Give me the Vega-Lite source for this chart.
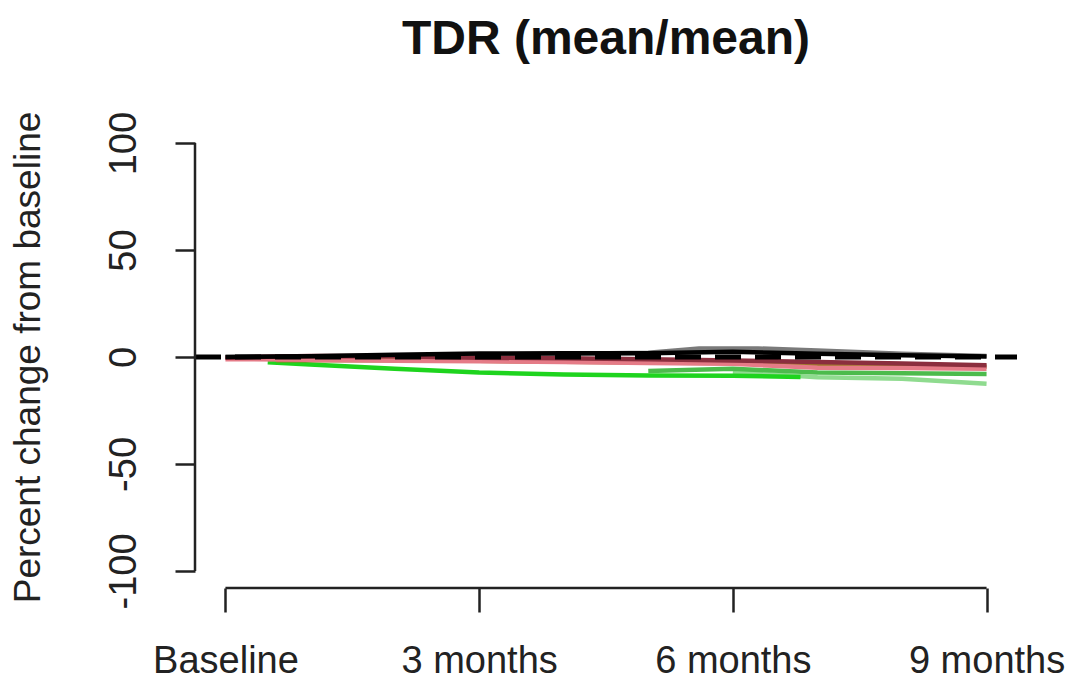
{
  "$schema": "https://vega.github.io/schema/vega-lite/v6.json",
  "autosize": "none",
  "padding": {"left": 195, "top": 126, "right": 63, "bottom": 100},
  "width": 822,
  "height": 462,
  "background": "white",
  "title": {
    "text": "TDR (mean/mean)",
    "font": "Liberation Sans",
    "fontSize": 48,
    "fontWeight": "bold",
    "color": "#111",
    "anchor": "middle",
    "offset": 47
  },
  "datasets": {
    "series": [
      {"group": "gray", "month": 0, "value": 0},
      {"group": "gray", "month": 3, "value": 1},
      {"group": "gray", "month": 5, "value": 2},
      {"group": "gray", "month": 5.6, "value": 4},
      {"group": "gray", "month": 6.3, "value": 4},
      {"group": "gray", "month": 7, "value": 3},
      {"group": "gray", "month": 8, "value": 1.5},
      {"group": "gray", "month": 9, "value": 0.5},
      {"group": "lightgreen", "month": 6, "value": -7},
      {"group": "lightgreen", "month": 7, "value": -9.5},
      {"group": "lightgreen", "month": 8, "value": -10.2},
      {"group": "lightgreen", "month": 9, "value": -12.5},
      {"group": "midgreen", "month": 5, "value": -6.5},
      {"group": "midgreen", "month": 6, "value": -5.5},
      {"group": "midgreen", "month": 7, "value": -7.3},
      {"group": "midgreen", "month": 8, "value": -7.6},
      {"group": "midgreen", "month": 9, "value": -8},
      {"group": "green", "month": 0.5, "value": -2.5},
      {"group": "green", "month": 1, "value": -3.5},
      {"group": "green", "month": 2, "value": -5.5},
      {"group": "green", "month": 3, "value": -7.3},
      {"group": "green", "month": 4, "value": -8.2},
      {"group": "green", "month": 5, "value": -8.6},
      {"group": "green", "month": 6, "value": -8.8},
      {"group": "green", "month": 6.8, "value": -9.3},
      {"group": "olive", "month": 0.6, "value": -1.5},
      {"group": "olive", "month": 2, "value": -1.5},
      {"group": "olive", "month": 3, "value": -1.8},
      {"group": "olive", "month": 4, "value": -2.2},
      {"group": "olive", "month": 5, "value": -2.6},
      {"group": "olive", "month": 6, "value": -2.9},
      {"group": "olive", "month": 7, "value": -3.2},
      {"group": "olive", "month": 8, "value": -3.7},
      {"group": "olive", "month": 9, "value": -4.6},
      {"group": "pink", "month": 0, "value": -1},
      {"group": "pink", "month": 1, "value": -1.3},
      {"group": "pink", "month": 2, "value": -1.8},
      {"group": "pink", "month": 3, "value": -2},
      {"group": "pink", "month": 4, "value": -2.3},
      {"group": "pink", "month": 5, "value": -2.8},
      {"group": "pink", "month": 6, "value": -3.2},
      {"group": "pink", "month": 7, "value": -5},
      {"group": "pink", "month": 8, "value": -5.2},
      {"group": "pink", "month": 9, "value": -5.5},
      {"group": "maroon", "month": 0, "value": -0.3},
      {"group": "maroon", "month": 1, "value": 0.5},
      {"group": "maroon", "month": 2, "value": 0.3},
      {"group": "maroon", "month": 3, "value": -0.3},
      {"group": "maroon", "month": 4, "value": -0.6},
      {"group": "maroon", "month": 5, "value": -1},
      {"group": "maroon", "month": 6, "value": -1.6},
      {"group": "maroon", "month": 7, "value": -2.3},
      {"group": "maroon", "month": 8, "value": -3},
      {"group": "maroon", "month": 9, "value": -3.8},
      {"group": "black", "month": 0, "value": 0},
      {"group": "black", "month": 1, "value": 0.3},
      {"group": "black", "month": 2, "value": 1},
      {"group": "black", "month": 3, "value": 1.6},
      {"group": "black", "month": 4, "value": 1.7},
      {"group": "black", "month": 5, "value": 1.8},
      {"group": "black", "month": 6, "value": 2.4},
      {"group": "black", "month": 7, "value": 1.5},
      {"group": "black", "month": 8, "value": 0.8},
      {"group": "black", "month": 9, "value": 0.2}
    ],
    "reference": [
      {"month": -0.36, "value": 0},
      {"month": 9.36, "value": 0}
    ]
  },
  "layer": [
    {
      "data": {"name": "series"},
      "mark": {"type": "line", "strokeWidth": 4.5, "interpolate": "linear"},
      "encoding": {
        "x": {
          "field": "month",
          "type": "quantitative",
          "scale": {"domain": [-0.36, 9.36], "nice": false, "zero": false},
          "axis": {
            "values": [0, 3, 6, 9],
            "labelExpr": "datum.value == 0 ? 'Baseline' : datum.value + ' months'",
            "title": null,
            "grid": false,
            "domain": false,
            "tickSize": 24,
            "tickWidth": 2.5,
            "tickColor": "#222",
            "labelFont": "Liberation Sans",
            "labelFontSize": 38,
            "labelColor": "#222",
            "labelBaseline": "top",
            "labelPadding": 30,
            "labelFlush": false,
            "labelOverlap": false
          }
        },
        "y": {
          "field": "value",
          "type": "quantitative",
          "scale": {"domain": [-108, 108], "nice": false, "zero": false},
          "axis": {
            "values": [-100, -50, 0, 50, 100],
            "labelExpr": "(datum.value < 0 ? '-' : '') + abs(datum.value)",
            "title": "Percent change from baseline",
            "titleFont": "Liberation Sans",
            "titleFontSize": 37,
            "titleFontWeight": "normal",
            "titleColor": "#222",
            "titlePadding": 58,
            "grid": false,
            "domain": false,
            "tickSize": 20,
            "tickWidth": 2.5,
            "tickColor": "#222",
            "labelFont": "Liberation Sans",
            "labelFontSize": 38,
            "labelColor": "#222",
            "labelAngle": -90,
            "labelAlign": "center",
            "labelBaseline": "alphabetic",
            "labelPadding": 40,
            "labelFlush": false,
            "labelOverlap": false
          }
        },
        "detail": {"field": "group"},
        "color": {
          "field": "group",
          "type": "nominal",
          "legend": null,
          "scale": {
            "domain": ["gray", "lightgreen", "midgreen", "green", "olive", "pink", "maroon", "black"],
            "range": ["#7a7a7a", "#8fdb8f", "#4cbb4c", "#1ed41e", "#a0782e", "#e57b87", "#8b2e3e", "#000000"]
          }
        },
        "order": {"field": "month", "type": "quantitative"}
      }
    },
    {
      "data": {"name": "reference"},
      "mark": {"type": "line", "color": "black", "strokeWidth": 5, "strokeDash": [26, 14]},
      "encoding": {
        "x": {"field": "month", "type": "quantitative"},
        "y": {"field": "value", "type": "quantitative"}
      }
    },
    {
      "data": {"values": [{"x": 0, "x2": 9, "y": -108}]},
      "mark": {"type": "rule", "color": "#222", "strokeWidth": 2.5},
      "encoding": {
        "x": {"field": "x", "type": "quantitative"},
        "x2": {"field": "x2"},
        "y": {"field": "y", "type": "quantitative"}
      }
    },
    {
      "data": {"values": [{"x": -0.36, "y": -100, "y2": 100}]},
      "mark": {"type": "rule", "color": "#222", "strokeWidth": 2.5},
      "encoding": {
        "x": {"field": "x", "type": "quantitative"},
        "y": {"field": "y", "type": "quantitative"},
        "y2": {"field": "y2"}
      }
    }
  ],
  "config": {
    "view": {"stroke": null}
  }
}
